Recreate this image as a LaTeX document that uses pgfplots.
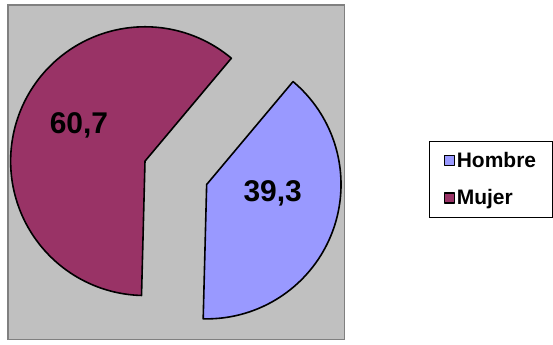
\documentclass[border=0pt]{standalone}
\usepackage{pgfplots}
\pgfplotsset{compat=1.18}
\usepackage{pgfplotstable}
\usepackage{fontspec}
\setmainfont{Liberation Sans}

\definecolor{hombre}{HTML}{9999FF}
\definecolor{mujer}{HTML}{993366}
\definecolor{plotgray}{HTML}{C0C0C0}
\definecolor{framegray}{HTML}{808080}

% share by sex, in percent
\pgfplotstableread{
sexo   pct
Hombre 39.3
Mujer  60.7
}\sexodata

\begin{document}
\begin{tikzpicture}
\pgfplotstablegetelem{0}{pct}\of\sexodata \let\pH\pgfplotsretval
\pgfplotstablegetelem{1}{pct}\of\sexodata \let\pM\pgfplotsretval
% first slice starts 40 degrees clockwise from twelve o'clock, slices run clockwise
\pgfmathsetmacro{\aA}{50}
\pgfmathsetmacro{\aB}{\aA-3.6*\pH}
\pgfmathsetmacro{\aC}{\aB-3.6*\pM}
\pgfmathsetmacro{\mH}{(\aA+\aB)/2}
\pgfmathsetmacro{\mM}{(\aB+\aC)/2}
% pie centre, radius and explosion distance
\def\cx{176}\def\cy{172}\def\rr{134.5}\def\ex{33}
\pgfmathsetmacro{\hx}{\cx+\ex*cos(\mH)}
\pgfmathsetmacro{\hy}{\cy+\ex*sin(\mH)}
\pgfmathsetmacro{\mx}{\cx+\ex*cos(\mM)}
\pgfmathsetmacro{\my}{\cy+\ex*sin(\mM)}
\begin{axis}[
  scale only axis, width=553pt, height=345pt,
  xmin=0, xmax=553, ymin=0, ymax=345,
  axis line style={draw=none}, ticks=none,
  clip=false,
  /pgf/number format/assume math mode=true,
  legend cell align=left,
  legend style={at={(axis cs:429,127)}, anchor=south west,
    draw=black, line width=0.8pt,
    font=\bfseries\fontsize{21}{24}\selectfont,
    row sep=17pt, inner xsep=15pt, inner ysep=9pt,
    nodes={inner xsep=1.5pt}},
  legend image code/.code={
    \draw[#1, draw=black, line width=1.4pt] (0pt,-5pt) rectangle (10pt,5pt);},
]
% plot area
\draw[fill=plotgray, draw=framegray, line width=1.5pt]
  (axis cs:8,5) rectangle (axis cs:345,340);
\addplot[fill=hombre, draw=black, line width=1.6pt, line join=round,
  domain=\aB:\aA, samples=120]
  ({\hx+\rr*cos(x)},{\hy+\rr*sin(x)}) -- (axis cs:\hx,\hy) -- cycle;
\addlegendentry{\textbf{Hombre}}
\addplot[fill=mujer, draw=black, line width=1.6pt, line join=round,
  domain=\aC:\aB, samples=160]
  ({\mx+\rr*cos(x)},{\my+\rr*sin(x)}) -- (axis cs:\mx,\my) -- cycle;
\addlegendentry{\textbf{Mujer}}
\node[font=\bfseries\fontsize{30}{32}\selectfont] at (axis cs:273,151)
  {\pgfmathprintnumber[fixed,precision=1,use comma]{\pH}};
\node[font=\bfseries\fontsize{30}{32}\selectfont] at (axis cs:79,220)
  {\pgfmathprintnumber[fixed,precision=1,use comma]{\pM}};
\end{axis}
\end{tikzpicture}
\end{document}
